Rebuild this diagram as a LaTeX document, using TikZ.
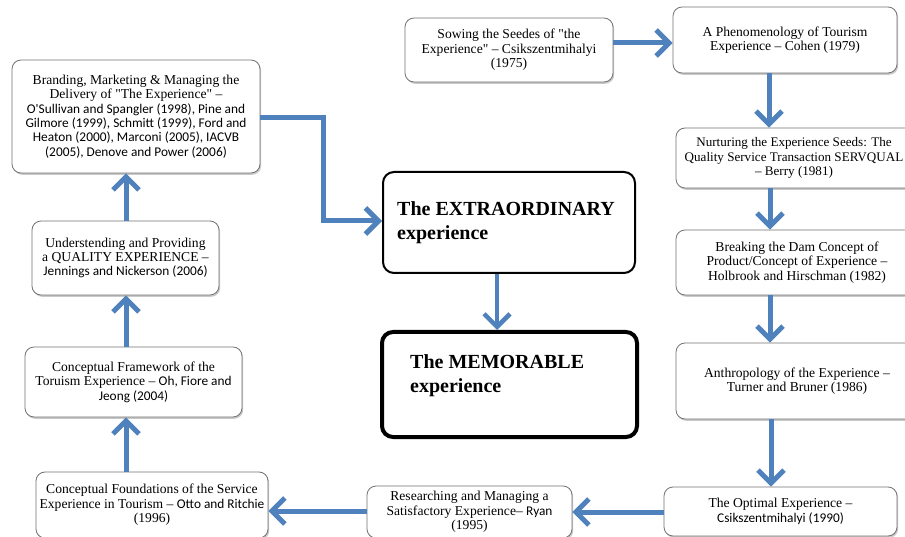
\documentclass[tikz,border=0pt]{standalone}
\usepackage{fontspec}
\setmainfont{Liberation Serif}[Ligatures=TeXOff]
\newfontfamily\calib[Scale=0.98]{Carlito}
\usetikzlibrary{arrows.meta,shadows}
\definecolor{arrblue}{HTML}{4F81BD}
\tikzset{
  box/.style={draw=black!55, line width=0.8pt, rounded corners=9pt, fill=white,
    align=center, inner sep=0pt,
    font=\fontsize{13.6}{14.4}\selectfont,
    drop shadow={shadow xshift=1.2pt, shadow yshift=-1.8pt, opacity=0.35, fill=black!60}},
  bigbox/.style={draw=black, rounded corners=11pt, fill=white, inner sep=0pt},
  bigtext/.style={font=\fontsize{20}{24}\selectfont\bfseries, align=left, inner sep=0pt, anchor=west},
  arr/.style={draw=arrblue, line width=5pt, -{Straight Barb[length=13pt,width=26pt]}},
}
\begin{document}
\begin{tikzpicture}[x=1pt,y=-1pt]
\useasboundingbox (0,0) rectangle (905,537);
\clip (0,0) rectangle (905,537);
\fill[white] (0,0) rectangle (905,537);

\node[box, minimum width=248pt, minimum height=113pt] (brand) at (136,116.5)
 {Branding, Marketing \& Managing the\\Delivery of "The Experience" –\\
  {\calib O'Sullivan and Spangler (1998), Pine and}\\
  {\calib Gilmore (1999), Schmitt (1999), Ford and}\\
  {\calib Heaton (2000), Marconi (2005), IACVB}\\
  {\calib (2005), Denove and Power (2006)}};
\node[box, minimum width=208pt, minimum height=64pt] (sow) at (509,50)
 {Sowing the Seedes of "the\\Experience" – Csikszentmihalyi\\(1975)};
\node[box, minimum width=224pt, minimum height=66pt] (phen) at (785,40)
 {A Phenomenology of Tourism\\Experience – Cohen (1979)};
\node[box, minimum width=242pt, minimum height=60pt, font=\fontsize{13.1}{14.4}\selectfont] (nur) at (797,158)
 {\hspace*{-6pt}Nurturing the Experience Seeds: The\\\hspace*{-6pt}Quality Service Transaction SERVQUAL\\\hspace*{-6pt}– Berry (1981)};
\node[box, minimum width=242pt, minimum height=65pt] (brk) at (797,262.5)
 {Breaking the Dam Concept of\\Product/Concept of Experience –\\Holbrook and Hirschman (1982)};
\node[box, minimum width=242pt, minimum height=76pt] (ant) at (797,381)
 {Anthropology of the Experience –\\Turner and Bruner (1986)};
\node[box, minimum width=233pt, minimum height=49pt] (opt) at (780.5,511.5)
 {The Optimal Experience –\\{\calib Csikszentmihalyi (1990)}};
\node[box, minimum width=205pt, minimum height=52pt] (res) at (469.5,512)
 {Researching and Managing a\\Satisfactory Experience– {\calib Ryan}\\(1995)};
\node[box, minimum width=232pt, minimum height=66pt] (fou) at (152,505)
 {Conceptual Foundations of the Service\\Experience in Tourism – {\calib Otto and Ritchie}\\(1996)};
\node[box, minimum width=217pt, minimum height=70pt] (fra) at (133.5,382)
 {Conceptual Framework of the\\Toruism Experience – {\calib Oh, Fiore and}\\{\calib Jeong (2004)}};
\node[box, minimum width=187pt, minimum height=74pt] (und) at (125.5,258)
 {Understending and Providing\\a QUALITY EXPERIENCE –\\{\calib Jennings and Nickerson (2006)}};

\node[bigbox, line width=2pt, minimum width=252pt, minimum height=101pt] (ext) at (509,222.5) {};
\node[bigtext] (exttxt) at (397,223) {The EXTRAORDINARY\\experience};
\node[bigbox, line width=4pt, minimum width=255pt, minimum height=105pt] (mem) at (509.5,384.5) {};
\node[bigtext] (memtxt) at (410,376) {The MEMORABLE\\experience};

\draw[arr] (sow.east |- 0,43) -- (phen.west |- 0,43);
\draw[arr] (phen.south -| 769,0) -- (nur.north -| 769,0);
\draw[arr] (nur.south -| 770,0) -- (brk.north -| 770,0);
\draw[arr] (brk.south -| 770,0) -- (ant.north -| 770,0);
\draw[arr] (ant.south -| 771,0) -- (opt.north -| 771,0);
\draw[arr] (opt.west |- 0,512) -- (res.east |- 0,512);
\draw[arr] (res.west |- 0,511) -- (fou.east |- 0,511);
\draw[arr] (fou.north -| 126,0) -- (fra.south -| 126,0);
\draw[arr] (fra.north -| 126,0) -- (und.south -| 126,0);
\draw[arr] (und.north -| 126,0) -- (brand.south -| 126,0);
\draw[arr] (brand.east |- 0,118) -| (323,221) -- (ext.west |- 0,221);
\draw[arr, line width=4.5pt] (ext.south -| 497,0) -- (mem.north -| 497,0);
\end{tikzpicture}
\end{document}
